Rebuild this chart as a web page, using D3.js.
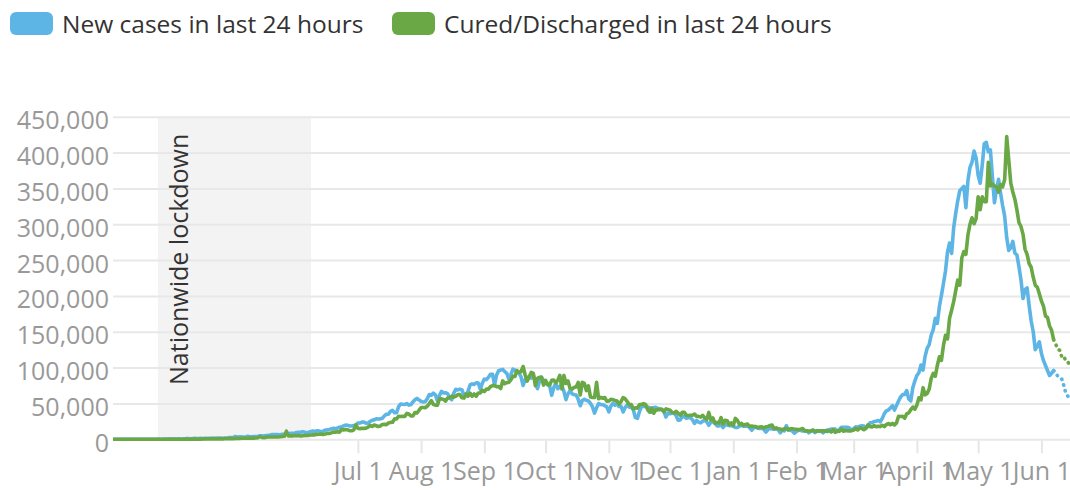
<!DOCTYPE html>
<html><head><meta charset="utf-8">
<script src="https://cdn.jsdelivr.net/npm/d3@7/dist/d3.min.js"></script>
<style>body{margin:0;background:#fff}svg text{font-family:"Open Sans",sans-serif}</style>
</head><body><svg id="c" width="1070" height="490"></svg>
<script>
// ---------- data (daily values in thousands, starting at firstDay) ----------
const firstDay = "2020-03-01";
const dottedFrom = "2021-06-07";
const newCasesK = [
 0,0,0,0,0,0,0,0,0,0,0,0,0,0,0,0,0,0.1,0.1,0.1,0.1,0.1,0.1,0.1,0.2,0.1,0.1,0.2,0.3,
 0.4,0.6,0.5,0.6,0.5,0.7,0.5,0.6,0.8,0.9,0.9,0.8,0.9,1.5,1.0,1.0,1.3,1.0,1.3,1.5,1.4,1.4,1.7,1.4,1.8,1.6,1.6,1.5,1.8,1.8,
 2.4,2.3,2.6,3.9,2.9,3.6,3.4,3.3,3.3,4.2,3.6,3.5,3.7,3.7,3.9,4.9,5.0,4.6,5.2,5.6,6.1,6.7,6.8,6.8,6.5,6.4,7.0,7.3,8.0,7.8,8.4,
 8.3,8.2,9.6,9.9,9.9,10.4,9.9,9.0,10.0,11.0,11.5,11.0,11.9,11.5,10.7,11.1,13.0,12.9,13.6,14.5,15.4,14.8,15.7,16.9,17.3,18.6,19.9,19.5,18.7,18.6,
 19.1,19.2,22.8,22.7,24.0,24.2,22.3,22.8,25.0,26.5,27.1,28.6,28.2,28.5,29.4,32.7,34.9,34.9,38.9,40.4,37.1,37.1,45.7,49.3,48.9,48.6,49.9,47.7,48.5,52.1,55.1,
 57.1,54.7,52.9,52.1,52.5,56.3,62.5,61.5,64.4,62.1,53.6,61.0,66.9,64.6,65.0,63.5,57.9,55.1,64.5,69.7,68.9,69.9,69.2,61.4,60.9,67.2,75.8,77.3,76.5,78.8,78.5,
 69.9,78.4,83.9,83.3,86.4,90.6,90.8,75.8,89.7,95.7,96.6,97.6,94.4,92.1,83.8,90.1,97.9,96.4,93.3,92.6,86.9,75.1,83.3,86.5,86.1,85.4,89.0,82.2,70.6,80.5,
 86.8,81.5,79.5,75.8,74.4,61.3,72.0,78.5,70.5,74.0,74.4,66.7,55.3,63.5,67.7,63.4,62.2,61.9,55.7,46.8,54.0,55.8,54.4,53.4,50.1,45.1,36.5,43.9,49.9,48.6,48.3,
 46.9,45.2,38.3,46.2,50.2,47.6,50.3,45.7,45.9,38.1,44.3,47.9,44.9,44.7,41.1,30.5,29.1,38.6,45.6,45.9,46.2,45.2,44.1,37.9,44.4,44.5,43.1,41.3,41.8,38.8,
 31.1,36.6,35.6,36.6,36.6,32.9,26.6,27.0,32.1,31.5,29.4,30.0,30.3,27.1,22.1,26.4,24.0,22.9,25.2,26.6,24.3,19.6,23.9,24.7,23.1,18.7,18.7,20.0,16.4,20.5,20.0,
 19.1,19.1,18.2,16.5,16.4,18.1,20.3,18.1,18.2,18.6,16.3,12.6,15.9,16.9,15.6,15.2,15.1,13.8,10.1,13.8,15.2,14.5,14.3,14.8,13.2,9.1,12.7,11.7,18.9,13.1,13.0,
 11.4,8.6,11.0,12.9,12.4,11.7,12.1,11.8,9.1,11.1,12.9,9.3,12.1,11.6,11.1,9.1,11.6,12.9,13.2,14.3,14.3,14.2,10.6,13.7,16.7,16.6,16.6,16.8,
 15.5,12.3,14.9,17.4,16.8,18.3,18.7,18.6,15.4,17.9,22.9,23.3,24.9,25.3,26.3,24.5,28.9,35.9,39.7,40.9,43.8,46.9,40.7,47.3,53.5,59.1,62.3,62.7,68.0,56.2,53.5,
 72.3,81.5,89.1,93.2,103.6,96.6,115.7,126.8,131.9,145.4,152.9,168.9,161.7,185.2,200.7,217.4,234.7,261.5,273.8,259.2,295.0,315.0,332.7,346.8,349.7,352.9,323.1,360.9,379.3,386.5,
 402.0,392.5,368.1,357.2,382.3,412.3,414.2,401.1,403.7,366.2,329.9,348.4,362.7,343.1,326.1,311.2,281.4,263.5,267.3,276.1,259.6,257.3,240.8,222.3,196.4,208.9,211.3,186.4,165.0,150.0,125.0,
 130,136,120,110,103,96,89,92,96,93,88,86,84,75,64,60,56
];
const curedK = [
 0,0,0,0,0,0,0,0,0,0,0,0,0,0,0,0,0,0,0,0,0,0,0,0,0,0,0,0,0,
 0.0,0.0,0.0,0.1,0.0,0.1,0.1,0.1,0.1,0.2,0.1,0.1,0.2,0.2,0.3,0.2,0.3,0.4,0.7,0.4,0.7,0.6,0.4,0.7,0.5,0.7,0.6,0.6,1.0,0.7,
 1.0,1.1,0.8,1.3,1.3,1.2,1.4,1.6,1.5,1.6,1.9,1.6,1.7,1.9,2.2,3.9,2.5,2.2,3.0,3.2,3.3,3.2,3.3,3.3,3.3,3.6,3.9,4.2,11.3,4.6,4.8,
 4.8,5.2,4.9,5.4,4.6,5.0,5.2,5.2,5.8,5.9,6.2,6.2,6.9,7.1,7.4,6.9,7.4,8.0,8.1,9.0,10.2,10.0,10.5,10.0,13.9,12.9,13.8,13.2,12.0,11.9,
 13.2,20.0,15.4,14.9,15.5,15.3,15.5,16.9,19.5,17.9,19.9,18.9,17.9,18.6,20.6,20.8,20.3,22.9,23.6,23.7,28.5,28.5,32.2,31.9,32.2,31.9,36.1,35.2,32.6,32.6,37.4,
 36.6,40.6,44.3,44.3,44.0,46.1,49.8,53.9,48.9,47.7,47.7,56.4,56.4,55.6,53.3,57.6,57.6,60.1,58.8,60.1,62.3,62.3,57.9,57.5,63.2,60.2,64.4,60.2,63.2,60.2,64.5,
 64.5,68.6,66.6,70.1,70.0,73.6,74.9,74.9,73.5,73.5,70.9,81.5,77.5,79.3,79.3,82.9,87.8,87.8,95.9,93.4,94.6,101.5,89.7,81.2,87.4,93.4,92.0,74.9,84.9,86.4,
 86.4,75.6,82.3,76.7,75.8,82.2,82.8,78.9,82.8,89.2,70.3,89.1,77.8,81.5,70.8,70.0,72.6,73.0,79.4,61.8,79.4,78.0,68.0,74.6,59.1,58.4,58.3,79.4,56.5,58.4,57.3,
 58.3,53.3,53.4,55.8,55.3,54.2,53.4,49.1,52.7,58.3,56.5,52.7,48.4,48.5,42.3,43.9,43.5,48.4,48.5,49.7,48.5,41.5,37.8,43.5,36.4,41.1,41.1,42.3,41.5,38.3,
 42.4,41.5,40.7,37.5,36.5,39.1,36.4,33.5,37.5,37.5,33.5,33.1,33.5,33.5,35.3,32.1,32.0,31.0,33.5,29.8,27.9,37.5,26.9,29.8,22.2,23.6,22.7,30.2,21.4,26.6,26.0,
 20.3,22.9,19.3,29.1,26.5,20.9,22.4,19.3,20.7,21.2,17.8,18.4,17.8,17.9,16.0,17.2,17.4,15.9,17.4,17.8,19.3,19.9,14.5,16.0,14.8,14.4,13.1,14.8,15.0,13.0,14.8,
 14.8,14.1,14.0,13.3,14.2,15.0,11.8,11.8,11.6,11.5,13.0,10.9,11.4,11.8,11.8,11.8,11.8,11.0,11.9,10.2,13.5,9.7,11.8,11.1,14.3,11.3,12.2,11.8,
 11.7,12.1,12.9,15.1,13.1,16.0,15.1,13.3,15.4,20.2,17.7,17.1,19.0,17.5,18.3,17.7,19.6,17.7,20.4,22.0,20.2,22.1,20.0,22.9,32.1,31.9,32.2,29.3,35.6,37.0,41.3,
 45,42,48,58,55,72,62,64,70,85,92,88,103,115,110,131,145,140,169,180,192,207,222,215,253,262,258,285,300,309,
 300.7,307.9,338.4,320.3,338.4,331.5,331.5,386.4,353.3,356.1,353.3,352.2,344.7,355.3,352.2,362.4,422.4,389.9,357.3,345.0,335.0,320.0,302.5,296.8,285.9,265,258,245,240,226,215,
 212,203,193,186,172,170,158,152,139,133,126,124,115,116,109,108,102
];
const seriesNames = ["New cases in last 24 hours", "Cured/Discharged in last 24 hours"];
const seriesColors = ["#5db5e6", "#6aa845"];
const monthTicks = ["2020-07-01","2020-08-01","2020-09-01","2020-10-01","2020-11-01","2020-12-01","2021-01-01","2021-02-01","2021-03-01","2021-04-01","2021-05-01","2021-06-01"];
const monthLabels = ["Jul 1","Aug 1","Sep 1","Oct 1","Nov 1","Dec 1","Jan 1","Feb 1","Mar 1","April 1","May 1","Jun 1"];
const yTicks = [0,50000,100000,150000,200000,250000,300000,350000,400000,450000];
const lockdown = ["2020-03-25","2020-06-08"];
const lockdownLabel = "Nationwide lockdown";

// ---------- layout ----------
const plotL = 113, plotR = 1072, plotT = 116.7, plotB = 439.3;
const parse = d3.utcParse("%Y-%m-%d");
const x = d3.scaleUtc().domain([parse("2020-03-03"), parse("2021-06-16")]).range([plotL, plotR]);
const y = d3.scaleLinear().domain([0, 450000]).range([plotB, plotT]);
const svg = d3.select("#c");

const start = parse(firstDay), dotDate = parse(dottedFrom);
const toPts = arr => arr.map((v,i)=>({date:d3.utcDay.offset(start,i), v:v*1000}));
const series = [toPts(newCasesK), toPts(curedK)];

// clip
svg.append("clipPath").attr("id","clip").append("rect")
  .attr("x",plotL).attr("y",plotT-20).attr("width",1070-plotL).attr("height",plotB-plotT+24);

// lockdown band
svg.append("rect").attr("x",x(parse(lockdown[0]))).attr("y",plotT)
  .attr("width",x(parse(lockdown[1]))-x(parse(lockdown[0]))).attr("height",plotB-plotT)
  .attr("fill","#f3f3f3");

// gridlines
const grid = svg.append("g").attr("transform",`translate(${plotL},0)`)
  .call(d3.axisLeft(y).tickValues(yTicks).tickSize(-(1070-plotL)).tickFormat(""));
grid.select(".domain").remove();
grid.selectAll("line").attr("stroke","#e8e8e8").attr("stroke-width",2);

// y labels
const yAx = svg.append("g").attr("transform",`translate(${plotL},0)`)
  .call(d3.axisLeft(y).tickValues(yTicks).tickSize(0).tickPadding(4).tickFormat(d3.format(",")));
yAx.select(".domain").remove();
yAx.selectAll("text").attr("font-family","Open Sans").attr("font-size",25).attr("fill","#999")
  .attr("dy",null).attr("y",12);

// x axis
const xAx = svg.append("g").attr("transform",`translate(0,${plotB+1})`)
  .call(d3.axisBottom(x).tickValues(monthTicks.map(parse)).tickSize(13).tickFormat((d,i)=>monthLabels[i]));
xAx.select(".domain").remove();
xAx.selectAll("line").attr("stroke","#e6e6e6").attr("stroke-width",2);
xAx.selectAll("text").attr("font-family","Open Sans").attr("font-size",25).attr("fill","#999")
  .attr("dy",null).attr("y",40);

// lockdown label
svg.append("text").attr("transform",`translate(188,385) rotate(-90)`)
  .attr("font-size",25).attr("fill","#333").text(lockdownLabel);

// lines
const line = d3.line().x(d=>x(d.date)).y(d=>y(d.v));
const lg = svg.append("g").attr("clip-path","url(#clip)");
series.forEach((s,i)=>{
  const solid = s.filter(d=>d.date<=dotDate), dotted = s.filter(d=>d.date>=dotDate);
  lg.append("path").attr("d",line(solid)).attr("fill","none").attr("stroke",seriesColors[i])
    .attr("stroke-width",3.6).attr("stroke-linejoin","round");
  lg.append("path").attr("d",line(dotted)).attr("fill","none").attr("stroke",seriesColors[i])
    .attr("stroke-width",3.6).attr("stroke-linecap","round").attr("stroke-dasharray","0.5 5.5");
});

// legend
const legX = [10, 392];
seriesNames.forEach((n,i)=>{
  svg.append("rect").attr("x",legX[i]).attr("y",12).attr("width",43).attr("height",23)
    .attr("rx",6).attr("fill",seriesColors[i]);
  svg.append("text").attr("x",legX[i]+52).attr("y",33).attr("font-size",24.5).attr("fill","#333").text(n);
});
</script></body></html>
